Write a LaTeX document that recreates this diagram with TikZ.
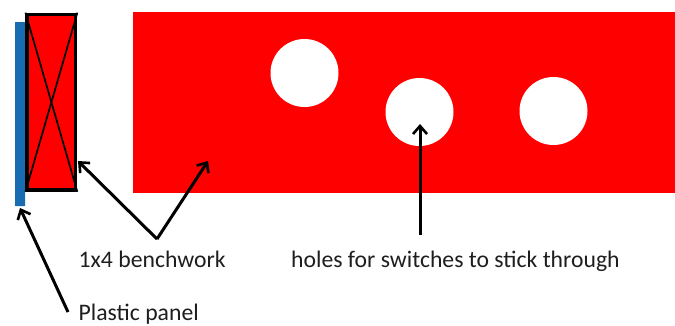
\documentclass[tikz,border=0pt]{standalone}
\usepackage{fontspec}
\setmainfont{Carlito}
\usetikzlibrary{arrows.meta}
\definecolor{panelblue}{RGB}{24,108,178}
\definecolor{boardred}{RGB}{255,0,0}
\definecolor{labelgray}{RGB}{30,30,30}
\tikzset{
  board/.style={fill=boardred,draw=none,minimum width=#1},
  hole/.style={circle,fill=white,draw=none,minimum size=2.38cm},
  pointer/.style={black,line width=3pt,-{Straight Barb[length=8pt,width=14pt,line width=2.6pt]}},
  caption/.style={anchor=base west,text=labelgray,font=\fontsize{23.6}{28}\selectfont}
}
\begin{document}
\begin{tikzpicture}[scale=0.35]
\tikzstyle{every node}+=[inner sep=0pt]
\useasboundingbox (0,0) rectangle (67.5,-32.5);
\node [fill=panelblue,rounded corners=0.5pt,minimum width=0.35cm,minimum height=6.44cm] (panel) at (2,-11.42) {};
\node [board=1.69cm,minimum height=6.14cm,draw=black,line width=3.6pt] (bench) at (5.14,-10.22) {};
\draw [black,line width=1.7pt] (bench.north west) -- (bench.south east);
\draw [black,line width=1.7pt] (bench.north east) -- (bench.south west);
\node [board=18.97cm,minimum height=6.335cm] (front) at (40.4,-10.25) {};
\node [hole] (holea) at (30.45,-7.3) {};
\node [hole] (holeb) at (41.95,-11.2) {};
\node [hole] (holec) at (55.35,-11.1) {};
\node [caption] (benchlabel) at (7.85,-26.7) {1x4 benchwork};
\node [caption] (holelabel) at (29.1,-26.7) {holes for switches to stick through};
\node [caption] (panellabel) at (7.85,-32.05) {Plastic panel};
\coordinate (benchfork) at (15.7,-23.9);
\coordinate (benchtip) at (7.8,-16.1);
\coordinate (fronttip) at (20.8,-16.1);
\coordinate (holetail) at (42,-23.5);
\coordinate (holetip) at (42,-12.4);
\coordinate (paneltail) at (6.8,-31.2);
\coordinate (paneltip) at (2,-20.8);
\draw [pointer] (benchfork) -- (benchtip);
\draw [pointer] (benchfork) -- (fronttip);
\draw [pointer] (holetail) -- (holetip);
\draw [pointer] (paneltail) -- (paneltip);
\end{tikzpicture}
\end{document}
